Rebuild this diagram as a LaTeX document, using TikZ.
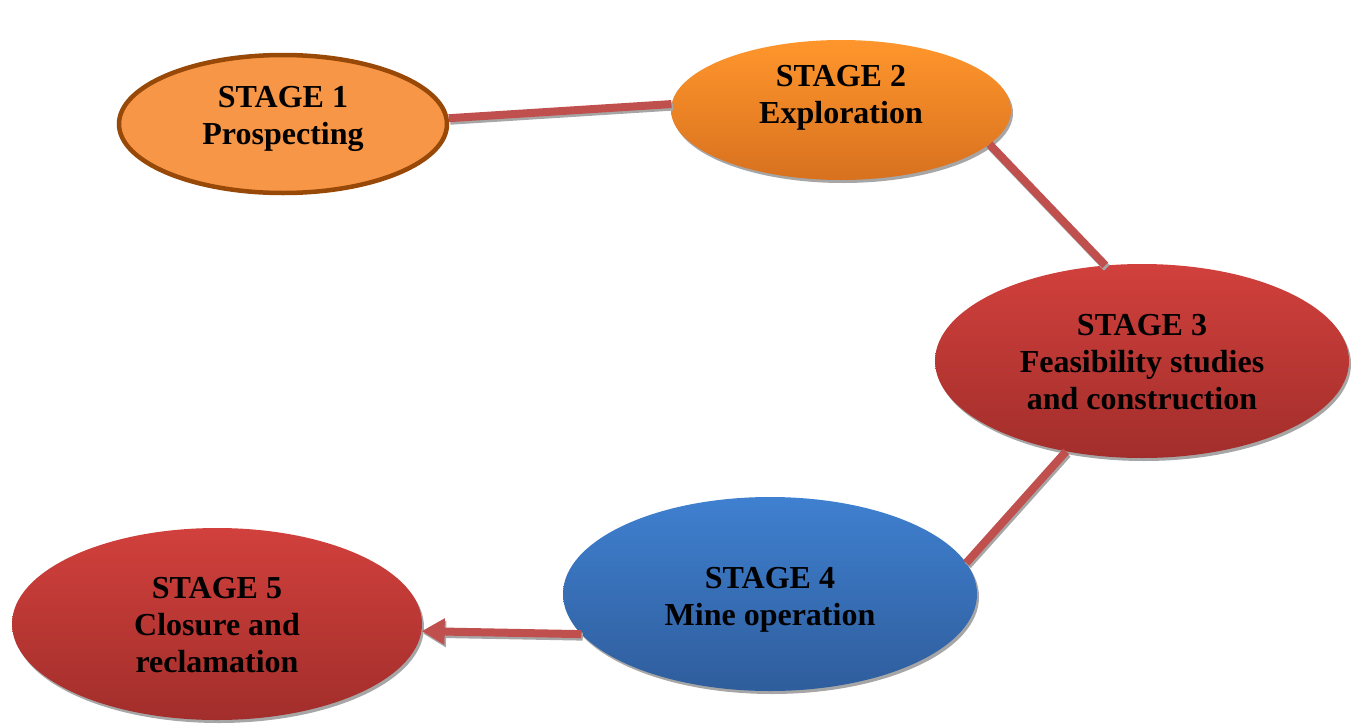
\documentclass[tikz,border=0pt]{standalone}
\usepackage{fontspec}
\setmainfont{Liberation Serif}
\usetikzlibrary{shapes.geometric,shadows,arrows.meta}

\definecolor{orangeA}{HTML}{F79646}
\definecolor{orangeRim}{HTML}{984807}
\definecolor{orangeTop}{HTML}{FF962C}
\definecolor{orangeBot}{HTML}{D8711F}
\definecolor{redTop}{HTML}{D1403C}
\definecolor{redBot}{HTML}{A22E2B}
\definecolor{blueTop}{HTML}{3F80D0}
\definecolor{blueBot}{HTML}{2F5D9C}
\definecolor{linkRed}{HTML}{C0504D}
\definecolor{shadowGrey}{HTML}{A6A6A6}

\tikzset{
  stage/.style={ellipse, inner sep=0pt},
  stagetext/.style={inner sep=0pt, align=center,
    font=\bfseries\fontsize{32}{37}\selectfont, text=black},
  shadowed/.style={drop shadow={shadow xshift=2pt, shadow yshift=-3pt,
    fill=shadowGrey, opacity=1}},
  link/.style={draw=linkRed, line width=8pt,
    preaction={draw=shadowGrey, line width=8pt,
      transform canvas={shift={(1.5pt,-2.5pt)}}}},
}

\begin{document}
\begin{tikzpicture}[x=1pt,y=-1pt]
  \useasboundingbox (0,0) rectangle (1357,723);

  % the five stages of a mine's life
  \node[stage, fill=orangeA, draw=orangeRim, line width=4.5pt,
        minimum width=328pt, minimum height=138pt,
        label={[stagetext, yshift=5pt]center:{STAGE 1\\Prospecting}}]
        (s1) at (283,124) {};
  \node[stage, shadowed, top color=orangeTop, bottom color=orangeBot,
        minimum width=340pt, minimum height=140pt,
        label={[stagetext, yshift=12pt]center:{STAGE 2\\Exploration}}]
        (s2) at (841,110) {};
  \node[stage, shadowed, top color=redTop, bottom color=redBot,
        minimum width=414pt, minimum height=194pt,
        label={[stagetext, yshift=-1pt]center:{STAGE 3\\Feasibility studies\\and construction}}]
        (s3) at (1142,361) {};
  \node[stage, shadowed, top color=blueTop, bottom color=blueBot,
        minimum width=414pt, minimum height=194pt,
        label={[stagetext, yshift=-6pt]center:{STAGE 4\\Mine operation}}]
        (s4) at (770,594) {};
  \node[stage, shadowed, top color=redTop, bottom color=redBot,
        minimum width=410pt, minimum height=192pt,
        label={[stagetext, yshift=-1pt]center:{STAGE 5\\Closure and\\reclamation}}]
        (s5) at (217,624) {};

  % connectors between consecutive stages
  \draw[link] (s1.2) -- (s2.178);
  \draw[link] (s2.-13) -- (s3.111);
  \draw[link] (s3.230) -- (s4.9);
  \draw[link, -{Triangle[width=25pt,length=23pt]}] (s4.192) -- (s5.-2);
\end{tikzpicture}
\end{document}
